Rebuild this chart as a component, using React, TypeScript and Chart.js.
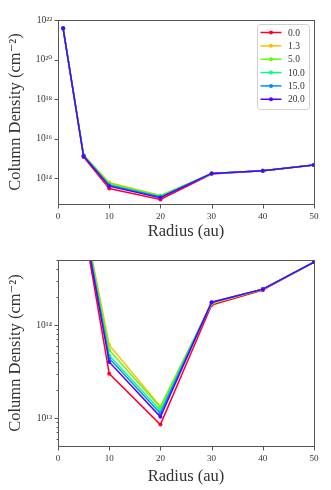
import React, { useEffect, useRef } from "react";
import { Chart, registerables } from "chart.js";
Chart.register(...registerables);

const radii = [1, 5, 10, 20, 30, 40, 50];
const seriesLabels = ["0.0", "1.3", "5.0", "10.0", "15.0", "20.0"];
const seriesColors = [
  "rgb(255,0,41)",
  "rgb(255,188,0)",
  "rgb(92,255,0)",
  "rgb(0,255,137)",
  "rgb(0,142,255)",
  "rgb(87,0,255)",
];
const s00 = [3.8e21, 1.2e15, 3.0e13, 8.5e12, 1.64e14, 2.37e14, 4.75e14];
const s13 = [3.8e21, 1.5e15, 6.1e13, 1.33e13, 1.7e14, 2.42e14, 4.75e14];
const s50 = [3.8e21, 1.45e15, 5.4e13, 1.3e13, 1.72e14, 2.42e14, 4.75e14];
const s100 = [3.8e21, 1.4e15, 4.7e13, 1.2e13, 1.74e14, 2.43e14, 4.75e14];
const s150 = [3.8e21, 1.35e15, 4.4e13, 1.12e13, 1.75e14, 2.43e14, 4.75e14];
const s200 = [3.8e21, 1.3e15, 4.0e13, 1.03e13, 1.76e14, 2.43e14, 4.75e14];
const seriesValues = [s00, s13, s50, s100, s150, s200];

const xTicks = [0, 10, 20, 30, 40, 50];
const topYTicks = [1e14, 1e16, 1e18, 1e20, 1e22];
const bottomYTicks = [1e13, 1e14];
const bottomMinorTicks = [
  6e12, 7e12, 8e12, 9e12, 2e13, 3e13, 4e13, 5e13, 6e13, 7e13, 8e13, 9e13, 2e14, 3e14, 4e14, 5e14,
];

const FONT = "'Liberation Serif', 'DejaVu Serif', serif";
const TEXT = "#333";
const AXIS = "#555";

const SUP: Record<string, string> = {
  "0": "\u2070", "1": "\u00b9", "2": "\u00b2", "3": "\u00b3", "4": "\u2074",
  "5": "\u2075", "6": "\u2076", "7": "\u2077", "8": "\u2078", "9": "\u2079", "-": "\u207b",
};
const sup = (s: string) => s.split("").map((c) => SUP[c] || c).join("");

const framePlugin = {
  id: "frame",
  afterDatasetsDraw(chart: any, _args: any, opts: any) {
    const { ctx, chartArea: a, scales } = chart;
    ctx.save();
    ctx.strokeStyle = AXIS;
    ctx.lineWidth = 1;
    const L = Math.round(a.left) + 0.5, R = Math.round(a.right) + 0.5;
    const T = Math.round(a.top) + 0.5, B = Math.round(a.bottom) + 0.5;
    ctx.strokeRect(L, T, R - L, B - T);
    ctx.beginPath();
    for (const v of xTicks) {
      const px = Math.round(scales.x.getPixelForValue(v)) + 0.5;
      ctx.moveTo(px, B);
      ctx.lineTo(px, B + 4);
    }
    for (const v of opts.major || []) {
      const py = Math.round(scales.y.getPixelForValue(v)) + 0.5;
      ctx.moveTo(L - 4, py);
      ctx.lineTo(L, py);
    }
    for (const v of opts.minor || []) {
      const py = Math.round(scales.y.getPixelForValue(v)) + 0.5;
      ctx.moveTo(L - 2, py);
      ctx.lineTo(L, py);
    }
    ctx.stroke();
    ctx.restore();
  },
};

const legendPlugin = {
  id: "boxLegend",
  afterDraw(chart: any, _args: any, opts: any) {
    if (!opts.show) return;
    const { ctx } = chart;
    ctx.save();
    const x0 = 257.5, y0 = 24.5, w = 52, h = 85, r = 3;
    ctx.beginPath();
    ctx.moveTo(x0 + r, y0);
    ctx.arcTo(x0 + w, y0, x0 + w, y0 + h, r);
    ctx.arcTo(x0 + w, y0 + h, x0, y0 + h, r);
    ctx.arcTo(x0, y0 + h, x0, y0, r);
    ctx.arcTo(x0, y0, x0 + w, y0, r);
    ctx.closePath();
    ctx.fillStyle = "rgba(255,255,255,0.85)";
    ctx.fill();
    ctx.strokeStyle = "#d0d0d0";
    ctx.lineWidth = 1;
    ctx.stroke();
    ctx.font = `9.5px ${FONT}`;
    ctx.textBaseline = "middle";
    ctx.textAlign = "left";
    chart.data.datasets.forEach((ds: any, i: number) => {
      const y = 32.5 + i * 13.35;
      ctx.strokeStyle = ds.borderColor;
      ctx.lineWidth = 1.5;
      ctx.beginPath();
      ctx.moveTo(260.5, y);
      ctx.lineTo(281.5, y);
      ctx.stroke();
      ctx.fillStyle = ds.borderColor;
      ctx.beginPath();
      ctx.arc(271, y, 2, 0, Math.PI * 2);
      ctx.fill();
      ctx.fillStyle = TEXT;
      ctx.fillText(ds.label, 288, y + 0.5);
    });
    ctx.restore();
  },
};

function makeConfig(opts: {
  yMax: number;
  yTicks: number[];
  minor: number[];
  padTop: number;
  xHeight: number;
  legend: boolean;
}) {
  return {
    type: "line" as const,
    data: {
      datasets: seriesLabels.map((label, i) => ({
        label,
        data: radii.map((r, j) => ({ x: r, y: seriesValues[i][j] })),
        borderColor: seriesColors[i],
        backgroundColor: seriesColors[i],
        pointBackgroundColor: seriesColors[i],
        borderWidth: 1.5,
        pointRadius: 2,
        pointBorderWidth: 0,
        tension: 0,
        fill: false,
        order: seriesLabels.length - i,
      })),
    },
    options: {
      responsive: false,
      animation: false as const,
      devicePixelRatio: 1,
      layout: { padding: { top: opts.padTop, right: 17, left: 0, bottom: 0 } },
      plugins: {
        legend: { display: false },
        tooltip: { enabled: false },
        frame: { major: opts.yTicks, minor: opts.minor },
        boxLegend: { show: opts.legend },
      },
      scales: {
        x: {
          type: "linear" as const,
          min: 0,
          max: 50,
          afterBuildTicks: (s: any) => {
            s.ticks = xTicks.map((v) => ({ value: v }));
          },
          afterFit: (s: any) => {
            s.height = opts.xHeight;
          },
          grid: { display: false, drawTicks: false },
          border: { display: false },
          ticks: {
            font: { family: FONT, size: 9 },
            color: TEXT,
            padding: 7,
            maxRotation: 0,
            autoSkip: false,
          },
          title: {
            display: true,
            text: "Radius (au)",
            font: { family: FONT, size: 16.5 },
            color: TEXT,
            padding: { top: 0, bottom: 3 },
          },
        },
        y: {
          type: "logarithmic" as const,
          min: 5e12,
          max: opts.yMax,
          afterBuildTicks: (s: any) => {
            s.ticks = opts.yTicks.map((v) => ({ value: v }));
          },
          afterFit: (s: any) => {
            s.width = 58;
          },
          grid: { display: false, drawTicks: false },
          border: { display: false },
          ticks: {
            font: { family: FONT, size: 9.5 },
            color: TEXT,
            padding: 6,
            autoSkip: false,
            callback: (v: any) => "10" + sup(String(Math.round(Math.log10(Number(v))))),
          },
          title: {
            display: true,
            text: "Column Density (cm\u207b\u00b2)",
            font: { family: FONT, size: 16.5 },
            color: TEXT,
            padding: { top: 6, bottom: 0 },
          },
        },
      },
    },
    plugins: [framePlugin, legendPlugin],
  };
}

export default function App() {
  const topRef = useRef<HTMLCanvasElement>(null);
  const botRef = useRef<HTMLCanvasElement>(null);

  useEffect(() => {
    const top = new Chart(
      topRef.current as HTMLCanvasElement,
      makeConfig({ yMax: 1e22, yTicks: topYTicks, minor: [], padTop: 20, xHeight: 41, legend: true }) as any
    );
    const bot = new Chart(
      botRef.current as HTMLCanvasElement,
      makeConfig({ yMax: 5e14, yTicks: bottomYTicks, minor: bottomMinorTicks, padTop: 15, xHeight: 44, legend: false }) as any
    );
    return () => {
      top.destroy();
      bot.destroy();
    };
  }, []);

  return (
    <div style={{ position: "absolute", left: 0, top: 0, width: 331, height: 490, background: "#fff" }}>
      <canvas ref={topRef} width={331} height={245} style={{ display: "block" }} />
      <canvas ref={botRef} width={331} height={245} style={{ display: "block" }} />
    </div>
  );
}
